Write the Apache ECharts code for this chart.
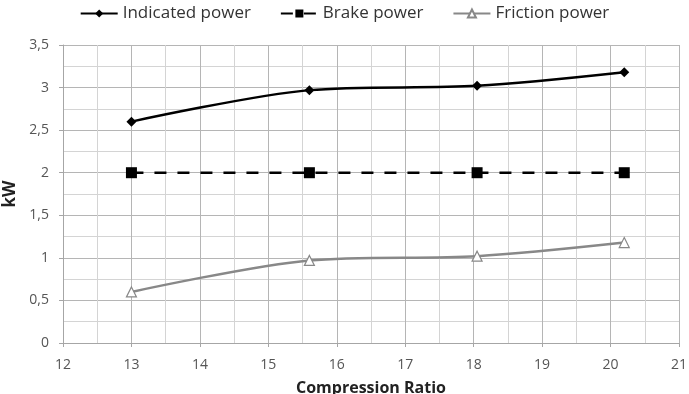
<!DOCTYPE html>
<html>
<head>
<meta charset="utf-8">
<script src="https://cdn.jsdelivr.net/npm/echarts@6/dist/echarts.min.js"></script>
<style>
  html, body { margin: 0; padding: 0; background: #fff; }
  #chart { width: 689px; height: 394px; }
</style>
</head>
<body>
<div id="chart"></div>
<script>
// data
var seriesNames = ['Indicated power', 'Brake power', 'Friction power'];
var ratioX = [13, 15.6, 18.05, 20.2];
var indicated = [2.6, 2.97, 3.02, 3.18];
var brake = [2.0, 2.0, 2.0, 2.0];
var friction = [0.6, 0.97, 1.02, 1.18];

function pairs(xs, ys) {
  return xs.map(function (x, i) { return [x, ys[i]]; });
}

var myChart = echarts.init(document.getElementById('chart'));
var font = '"Open Sans", "Liberation Sans", sans-serif';
myChart.setOption({
  animation: false,
  textStyle: { fontFamily: font },
  legend: {
    top: 0,
    left: 'center',
    itemWidth: 37,
    itemHeight: 10,
    itemGap: 29,
    textStyle: { fontSize: 17, color: '#333', fontFamily: font },
    data: seriesNames
  },
  grid: { left: 63, right: 10, top: 45, bottom: 51, outerBoundsMode: 'none' },
  xAxis: {
    type: 'value',
    min: 12, max: 21, interval: 1,
    name: 'Compression Ratio',
    nameLocation: 'middle',
    nameGap: 37,
    nameTextStyle: { fontWeight: 'bold', fontSize: 16, color: '#222' },
    axisLine: { lineStyle: { color: '#a6a6a6' } },
    axisTick: { show: true, length: 4, lineStyle: { color: '#a6a6a6' } },
    axisLabel: { color: '#555', fontSize: 14, margin: 15 },
    splitLine: { show: true, lineStyle: { color: '#b5b5b5' } },
    minorTick: { show: false, splitNumber: 2 },
    minorSplitLine: { show: true, lineStyle: { color: '#d4d4d4' } }
  },
  yAxis: {
    type: 'value',
    min: 0, max: 3.5, interval: 0.5,
    name: 'kW',
    nameLocation: 'middle',
    nameGap: 39,
    nameRotate: 90,
    nameTextStyle: { fontWeight: 'bold', fontSize: 17, color: '#222' },
    axisLine: { show: true, lineStyle: { color: '#a6a6a6' } },
    axisTick: { show: true, length: 4, lineStyle: { color: '#a6a6a6' } },
    axisLabel: {
      color: '#555', fontSize: 14, margin: 14,
      formatter: function (v) { return String(v).replace('.', ','); }
    },
    splitLine: { show: true, lineStyle: { color: '#b5b5b5' } },
    minorTick: { show: false, splitNumber: 2 },
    minorSplitLine: { show: true, lineStyle: { color: '#d4d4d4' } }
  },
  series: [{
    name: seriesNames[0],
    type: 'line',
    smooth: 0.3,
    data: pairs(ratioX, indicated),
    symbol: 'diamond',
    symbolSize: 10,
    itemStyle: { color: '#000' },
    lineStyle: { color: '#000', width: 2.5 }
  }, {
    name: seriesNames[1],
    type: 'line',
    data: pairs(ratioX, brake),
    symbol: 'rect',
    symbolSize: 11,
    itemStyle: { color: '#000' },
    lineStyle: { color: '#000', width: 2.5, type: [12, 11] }
  }, {
    name: seriesNames[2],
    type: 'line',
    smooth: 0.3,
    data: pairs(ratioX, friction),
    symbol: 'triangle',
    symbolSize: 10,
    itemStyle: { color: '#fff', borderColor: '#888', borderWidth: 1.2 },
    lineStyle: { color: '#888', width: 2.5 }
  }]
});
</script>
</body>
</html>
